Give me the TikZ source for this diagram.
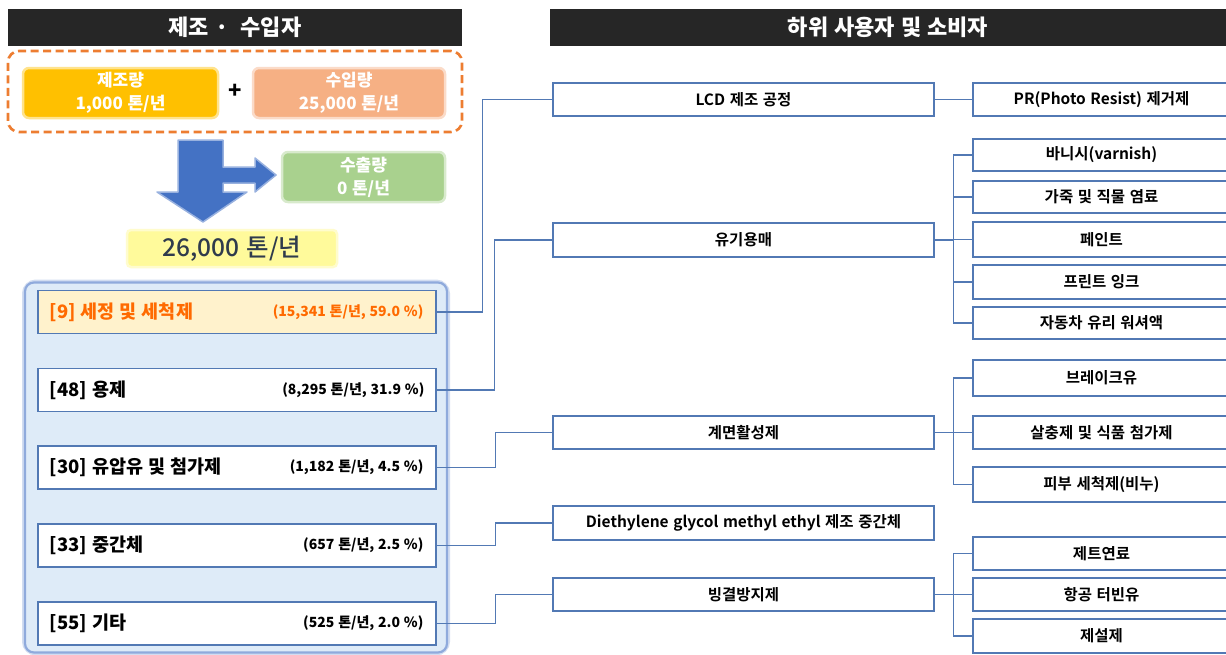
\documentclass[tikz,border=0pt]{standalone}
\usepackage{fontspec}
\setmainfont{Noto Sans CJK KR}[BoldFont={Noto Sans CJK KR Bold}, WordSpace=1.3]
\newfontfamily\krmed{Noto Sans CJK KR Medium}[WordSpace=1.3]
\newfontfamily\krblack{Noto Sans CJK KR Black}[WordSpace=1.2]
\definecolor{lineblue}{RGB}{82,121,180}
\definecolor{dashorange}{RGB}{237,125,49}
\definecolor{mfgyel}{RGB}{255,192,0}
\definecolor{impsal}{RGB}{246,176,132}
\definecolor{expgreen}{RGB}{169,209,142}
\definecolor{totyel}{RGB}{255,250,155}
\definecolor{tottext}{RGB}{47,59,76}
\definecolor{contfill}{RGB}{222,235,248}
\definecolor{contdraw}{RGB}{143,170,220}
\definecolor{arrowblue}{RGB}{68,114,196}
\definecolor{hdrblack}{RGB}{38,38,38}
\definecolor{itemorange}{RGB}{255,106,0}
\definecolor{itemyel}{RGB}{255,242,204}
\begin{document}
\begin{tikzpicture}[x=1pt,y=-1pt,
  hdr/.style={rectangle, fill=hdrblack, text=white, font=\krblack\fontsize{22}{26}\selectfont, inner sep=0pt, minimum height=37},
  dashbox/.style={rectangle, rounded corners=11, draw=dashorange, line width=2.6pt, dash pattern=on 8pt off 4.5pt, inner sep=0pt},
  topbox/.style={rectangle, rounded corners=6, text=white, align=center, inner sep=0pt, font=\krblack\fontsize{17}{23}\selectfont, line width=2.5pt},
  container/.style={rectangle, rounded corners=9, fill=contfill, draw=contdraw, line width=2.2pt, inner sep=0pt},
  item/.style={rectangle, draw=lineblue, line width=1.2pt, fill=white, minimum width=398, minimum height=43, inner sep=0pt},
  itemL/.style={anchor=west, inner sep=0pt, font=\krblack\fontsize{18.5}{22}\selectfont},
  itemR/.style={anchor=east, inner sep=0pt, font=\krblack\fontsize{14}{17}\selectfont},
  midbox/.style={rectangle, draw=lineblue, line width=1.2pt, fill=white, minimum width=381, inner sep=0pt, font=\bfseries\fontsize{15.5}{18}\selectfont},
  rbox/.style={rectangle, draw=lineblue, line width=1.2pt, fill=white, minimum width=257, inner sep=0pt, font=\bfseries\fontsize{15.5}{18}\selectfont},
  conn/.style={draw=lineblue, line width=1.2pt}]
\useasboundingbox (0,0) rectangle (1226,654);
\fill[white] (0,0) rectangle (1226,654);

% headers
\node[hdr, minimum width=454] (hl) at (235,27.5) {제조 ·\ \ 수입자};
\node[hdr, minimum width=676] (hr) at (888,27.5) {하위 사용자 및 소비자};

% production group
\node[dashbox, minimum width=454, minimum height=81] (grp) at (235,91.5) {};
\node[topbox, fill=mfgyel, draw=mfgyel!45, minimum width=195, minimum height=50] (mfg) at (120.5,93) {제조량\\1,000 톤/년};
\node[font=\krblack\fontsize{22}{24}\selectfont, inner sep=0pt] (plus) at (235,91) {+};
\node[topbox, fill=impsal, draw=impsal!45, minimum width=192, minimum height=50] (imp) at (349,93) {수입량\\25,000 톤/년};

% blue arrow
\filldraw[fill=arrowblue, draw=arrowblue!55, line width=1.5pt, line join=round]
  (178,140) -- (223,140) -- (223,167) -- (255,167) -- (255,158) -- (276,175) -- (255,192) -- (255,183)
  -- (223,183) -- (223,192) -- (247,192) -- (203,222) -- (157,192) -- (178,192) -- cycle;

\node[topbox, fill=expgreen, draw=expgreen!45, minimum width=163, minimum height=50] (exp) at (363.5,177) {수출량\\0 톤/년};
\node[rectangle, rounded corners=4, fill=totyel, draw=totyel!50, line width=2.5pt, minimum width=210, minimum height=37, inner sep=0pt, text=tottext, font=\krmed\fontsize{24.5}{28}\selectfont] (tot) at (232,248.5) {26,000 톤/년};

% container
\node[rectangle, rounded corners=11, draw=contdraw!40, line width=6pt, minimum width=422, minimum height=370, inner sep=0pt] (contglow) at (236,467.5) {};
\node[container, minimum width=422, minimum height=370] (cont) at (236,467.5) {};

% items
\node[item, fill=itemyel] (i9) at (237,312) {};
\node[itemL, text=itemorange] (i9a) at ([xshift=12pt]i9.west) {[9] 세정 및 세척제};
\node[itemR, text=itemorange] (i9b) at ([xshift=-13pt]i9.east) {(15,341 톤/년, 59.0 \%)};
\node[item] (i48) at (237,390) {};
\node[itemL] (i48a) at ([xshift=12pt]i48.west) {[48] 용제};
\node[itemR] (i48b) at ([xshift=-12pt]i48.east) {(8,295 톤/년, 31.9 \%)};
\node[item] (i30) at (237,467.5) {};
\node[itemL] (i30a) at ([xshift=12pt]i30.west) {[30] 유압유 및 첨가제};
\node[itemR] (i30b) at ([xshift=-13pt]i30.east) {(1,182 톤/년, 4.5 \%)};
\node[item] (i33) at (237,545.5) {};
\node[itemL] (i33a) at ([xshift=12pt]i33.west) {[33] 중간체};
\node[itemR] (i33b) at ([xshift=-13pt]i33.east) {(657 톤/년, 2.5 \%)};
\node[item] (i55) at (237,623.5) {};
\node[itemL] (i55a) at ([xshift=12pt]i55.west) {[55] 기타};
\node[itemR] (i55b) at ([xshift=-13pt]i55.east) {(525 톤/년, 2.0 \%)};

% middle boxes
\node[midbox, minimum height=33] (lcd) at (743.5,99.5) {LCD 제조 공정};
\node[midbox, minimum height=34] (ygm) at (743.5,240) {유기용매};
\node[midbox, minimum height=33] (surf) at (743.5,432.5) {계면활성제};
\node[midbox, minimum height=34] (deg) at (743.5,523) {Diethylene glycol methyl ethyl 제조 중간체};
\node[midbox, minimum height=33] (afz) at (743.5,594.5) {빙결방지제};

% right boxes
\node[rbox, minimum height=33] (pr) at (1101.5,99.5) {PR(Photo Resist) 제거제};
\node[rbox, minimum height=32] (varn) at (1101.5,155) {바니시(varnish)};
\node[rbox, minimum height=32] (leat) at (1101.5,197) {가죽 및 직물 염료};
\node[rbox, minimum height=35] (paint) at (1101.5,239.5) {페인트};
\node[rbox, minimum height=34] (ink) at (1101.5,282) {프린트 잉크};
\node[rbox, minimum height=32] (wash) at (1101.5,323) {자동차 유리 워셔액};
\node[rbox, minimum height=36] (brake) at (1101.5,378) {브레이크유};
\node[rbox, minimum height=33] (pest) at (1101.5,432.5) {살충제 및 식품 첨가제};
\node[rbox, minimum height=35] (soap) at (1101.5,484.5) {피부 세척제(비누)};
\node[rbox, minimum height=33] (jet) at (1101.5,553.5) {제트연료};
\node[rbox, minimum height=33] (turb) at (1101.5,594.5) {항공 터빈유};
\node[rbox, minimum height=34] (deice) at (1101.5,636) {제설제};

% connectors left -> middle
\draw[conn] (i9.east) -- ++(46,0) |- (lcd.west);
\draw[conn] (i48.east) -- ++(58,0) |- (ygm.west);
\draw[conn] (i30.east) -- ++(59,0) |- (surf.west);
\draw[conn] (i33.east) -- ++(59,0) |- (deg.west);
\draw[conn] (i55.east) -- ++(59,0) |- (afz.west);

% connectors middle -> right
\draw[conn] (lcd.east) -- (pr.west);
\foreach \c in {varn,leat,paint,ink,wash}{\draw[conn] (ygm.east) -- ++(19,0) |- (\c.west);}
\foreach \c in {brake,pest,soap}{\draw[conn] (surf.east) -- ++(19,0) |- (\c.west);}
\foreach \c in {jet,turb,deice}{\draw[conn] (afz.east) -- ++(19,0) |- (\c.west);}
\end{tikzpicture}
\end{document}
